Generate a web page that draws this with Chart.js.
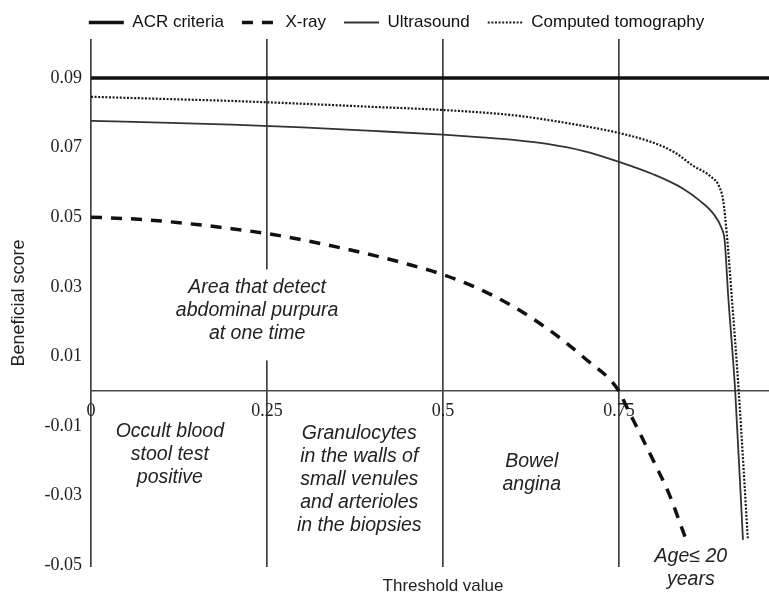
<!DOCTYPE html>
<html>
<head>
<meta charset="utf-8">
<script src="https://cdn.jsdelivr.net/npm/chart.js@4.4.1/dist/chart.umd.min.js"></script>
<style>
  html, body { margin: 0; padding: 0; background: #fff; }
</style>
</head>
<body>
<canvas id="chart" width="769" height="596"></canvas>
<script>
// Tick positions
const xTicks = [0, 0.25, 0.5, 0.75];
const yTicks = [-0.05, -0.03, -0.01, 0.01, 0.03, 0.05, 0.07, 0.09];
const xMax = 0.963;

// ACR criteria (constant)
const acrX = [0, 0.963];
const acrY = [0.09, 0.09];

// X-ray
const xrayX = [0, 0.05, 0.1, 0.15, 0.2, 0.25, 0.3, 0.35, 0.4, 0.45, 0.5, 0.55, 0.6, 0.65, 0.7, 0.75, 0.76, 0.78, 0.8, 0.82, 0.845];
const xrayY = [0.0500, 0.0496, 0.0489, 0.0479, 0.0467, 0.0453, 0.0435, 0.0414, 0.0391, 0.0365, 0.0335, 0.0295, 0.0243, 0.0177, 0.0097, 0.0, -0.0042, -0.0122, -0.0205, -0.0290, -0.0425];

// Ultrasound
const usX = [0, 0.1, 0.2, 0.3, 0.4, 0.5, 0.55, 0.6, 0.65, 0.7, 0.75, 0.8, 0.841, 0.865, 0.884, 0.896, 0.9, 0.905, 0.915, 0.926];
const usY = [0.0777, 0.0772, 0.0766, 0.0758, 0.0748, 0.0737, 0.0730, 0.0722, 0.0710, 0.0690, 0.0659, 0.0622, 0.0582, 0.0547, 0.0510, 0.0467, 0.0433, 0.0275, 0.0, -0.0427];

// Computed tomography
const ctX = [0, 0.1, 0.2, 0.3, 0.4, 0.5, 0.6, 0.65, 0.7, 0.75, 0.8, 0.83, 0.855, 0.879, 0.893, 0.898, 0.903, 0.9105, 0.92, 0.933];
const ctY = [0.0846, 0.0840, 0.0834, 0.0826, 0.0817, 0.0808, 0.0793, 0.0779, 0.0762, 0.0742, 0.0713, 0.0685, 0.0648, 0.0619, 0.0585, 0.0547, 0.0453, 0.0261, 0.0, -0.0427];

const SANS = '"Liberation Sans", Arial, sans-serif';
const SERIF = '"Liberation Serif", "Times New Roman", serif';

const pts = (xs, ys) => xs.map((x, i) => ({ x: x, y: ys[i] }));

// Text notes placed in data coordinates
const notes = [
    { lines: ['Area that detect', 'abdominal purpura', 'at one time'], x: 0.236, y: 0.0232, box: true },
    { lines: ['Occult blood', 'stool test', 'positive'], x: 0.112, y: -0.0183 },
    { lines: ['Granulocytes', 'in the walls of', 'small venules', 'and arterioles', 'in the biopsies'], x: 0.381, y: -0.0255 },
    { lines: ['Bowel', 'angina'], x: 0.626, y: -0.0236 },
    { lines: ['Age\u2264 20', 'years'], x: 0.852, y: -0.0509 }
];

const annotationPlugin = {
    id: 'notes',
    beforeDatasetsDraw(chart) {
        const { ctx, chartArea } = chart;
        const xs = chart.scales.x, ys = chart.scales.y;
        const lh = 23;
        ctx.save();
        ctx.textAlign = 'center';
        ctx.textBaseline = 'middle';
        ctx.font = 'italic 19.5px ' + SANS;
        notes.forEach(n => {
            const cx = xs.getPixelForValue(n.x);
            const top = ys.getPixelForValue(n.y) - (n.lines.length - 1) * lh / 2;
            if (n.box) {
                ctx.fillStyle = '#fff';
                ctx.fillRect(cx - 84, top - 18, 168, n.lines.length * lh + 22);
            }
            ctx.fillStyle = '#222';
            n.lines.forEach((t, i) => ctx.fillText(t, cx, top + i * lh));
        });
        // x axis title sits below the plot
        ctx.font = '17px ' + SANS;
        ctx.fillStyle = '#222';
        ctx.fillText('Threshold value', xs.getPixelForValue(0.5), chartArea.bottom + 19);
        ctx.restore();
    }
};

// nudge the legend a bit to the right like the source figure
const legendShift = {
    id: 'legendShift',
    afterLayout(chart) {
        chart.legend.left += 12;
        chart.legend.right += 12;
        chart.legend.top += 2;
        chart.legend.bottom += 2;
    }
};

new Chart(document.getElementById('chart'), {
    type: 'line',
    data: {
        datasets: [
            {
                label: 'ACR criteria',
                data: pts(acrX, acrY),
                borderColor: '#111',
                borderWidth: 3.5,
                pointRadius: 0
            },
            {
                label: 'X-ray',
                data: pts(xrayX, xrayY),
                borderColor: '#111',
                borderWidth: 3.5,
                borderDash: [11, 9],
                pointRadius: 0,
                cubicInterpolationMode: 'monotone'
            },
            {
                label: 'Ultrasound',
                data: pts(usX, usY),
                borderColor: '#333',
                borderWidth: 1.8,
                pointRadius: 0,
                cubicInterpolationMode: 'monotone'
            },
            {
                label: 'Computed tomography',
                data: pts(ctX, ctY),
                borderColor: '#1a1a1a',
                borderWidth: 2.2,
                borderDash: [2, 1.6],
                pointRadius: 0,
                cubicInterpolationMode: 'monotone'
            }
        ]
    },
    options: {
        responsive: false,
        animation: false,
        layout: { padding: { top: -6, left: 0, right: 0, bottom: 29 } },
        scales: {
            x: {
                type: 'linear',
                min: 0,
                max: xMax,
                position: { y: 0 },
                afterBuildTicks(scale) { scale.ticks = xTicks.map(v => ({ value: v })); },
                grid: { color: '#404040', lineWidth: 1.7, drawTicks: false },
                border: { display: true, color: '#4a4a4a', width: 1.5 },
                ticks: {
                    font: { family: SERIF, size: 18 },
                    color: '#222',
                    padding: 9,
                    maxRotation: 0,
                    autoSkip: false,
                    callback: v => String(v)
                }
            },
            y: {
                type: 'linear',
                min: -0.0505,
                max: 0.1012,
                afterBuildTicks(scale) { scale.ticks = yTicks.map(v => ({ value: v })); },
                afterFit(scale) { scale.width = 91; },
                grid: { display: false, drawTicks: false },
                border: { display: false },
                ticks: {
                    font: { family: SERIF, size: 18 },
                    color: '#222',
                    padding: 9,
                    callback: v => v.toFixed(2)
                },
                title: {
                    display: true,
                    text: 'Beneficial score',
                    font: { family: SANS, size: 18 },
                    color: '#222',
                    padding: { top: 8, bottom: 0 }
                }
            }
        },
        plugins: {
            tooltip: { enabled: false },
            legend: {
                position: 'top',
                align: 'center',
                labels: {
                    usePointStyle: true,
                    pointStyleWidth: 35,
                    font: { family: SANS, size: 17 },
                    color: '#111',
                    padding: 18,
                    generateLabels(chart) {
                        return chart.data.datasets.map((ds, i) => ({
                            text: ds.label,
                            datasetIndex: i,
                            strokeStyle: ds.borderColor,
                            fillStyle: ds.borderColor,
                            lineWidth: ds.borderWidth,
                            lineDash: ds.borderDash || [],
                            lineCap: 'butt',
                            pointStyle: 'line',
                            fontColor: '#111',
                            hidden: false
                        }));
                    }
                }
            }
        }
    },
    plugins: [annotationPlugin, legendShift]
});
</script>
</body>
</html>
